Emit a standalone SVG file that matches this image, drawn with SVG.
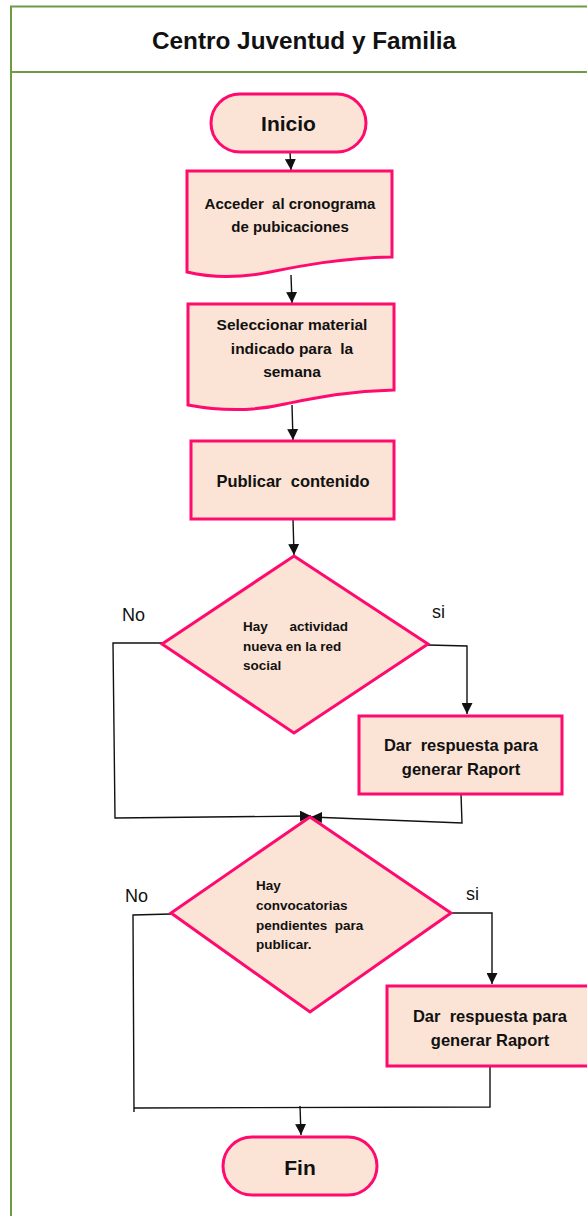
<svg xmlns="http://www.w3.org/2000/svg" width="587" height="1216" viewBox="0 0 587 1216">
<style>
.shape{fill:#FBE4D5;stroke:#FF0A6E;stroke-width:3}
.t{font-family:"Liberation Sans",Arial,sans-serif;font-weight:bold;fill:#111;text-anchor:middle}
.tl{font-family:"Liberation Sans",Arial,sans-serif;font-weight:bold;fill:#111;font-size:13.5px}
.lab{font-family:"Liberation Sans",Arial,sans-serif;fill:#111;font-size:18px}
.c{fill:none;stroke:#111;stroke-width:1.4}
</style>
<defs>
<marker id="ah" markerUnits="userSpaceOnUse" markerWidth="11" markerHeight="11" refX="10" refY="5" orient="auto" viewBox="0 0 10 10">
<path d="M0,0 L10,5 L0,10 Z" fill="#111"/>
</marker>
</defs>
<rect width="587" height="1216" fill="#fff"/>
<g id="frame">
<rect x="11" y="6.5" width="620" height="1240" fill="none" stroke="#6E9C45" stroke-width="2"/>
<line x1="11" y1="72" x2="600" y2="72" stroke="#6E9C45" stroke-width="2"/>
<text class="t" x="304" y="49" font-size="24" textLength="304" lengthAdjust="spacingAndGlyphs">Centro Juventud y Familia</text>
</g>
<g id="connectors">
<path class="c" d="M290,152 L291,170" marker-end="url(#ah)"/>
<path class="c" d="M291,275 L292,303" marker-end="url(#ah)"/>
<path class="c" d="M292,405 L293,440" marker-end="url(#ah)"/>
<path class="c" d="M293,519 L294,555" marker-end="url(#ah)"/>
<path class="c" d="M162,643 L113,643 L115,818 L311,816" marker-end="url(#ah)"/>
<path class="c" d="M428,645 L467,646 L467,714" marker-end="url(#ah)"/>
<path class="c" d="M461,794 L462,823 L311,817" marker-end="url(#ah)"/>
<path class="c" d="M171,914 L133,915 L134,1112"/>
<path class="c" d="M134,1108 L490,1107 L490,1066"/>
<path class="c" d="M451,913 L492,913 L492,984" marker-end="url(#ah)"/>
<path class="c" d="M300,1106 L301,1135" marker-end="url(#ah)"/>
</g>
<g id="inicio">
<rect class="shape" x="211" y="94" width="155" height="58" rx="29"/>
<text class="t" x="288.5" y="131" font-size="21">Inicio</text>
</g>
<g id="acceder">
<path class="shape" d="M187,171 H392 V257 C340,258 300,266 270,272 C240,278 212,278 187,272 Z"/>
<text class="t" x="290" y="209" font-size="15" xml:space="preserve">Acceder  al cronograma</text>
<text class="t" x="290" y="232" font-size="15">de pubicaciones</text>
</g>
<g id="seleccionar">
<path class="shape" d="M188,304 H394 V390 C345,391 310,399 285,404 C255,411 220,411 188,405 Z"/>
<text class="t" x="292" y="330" font-size="15.5">Seleccionar material</text>
<text class="t" x="292" y="354" font-size="15.5" xml:space="preserve">indicado para  la</text>
<text class="t" x="292" y="377" font-size="15.5">semana</text>
</g>
<g id="publicar">
<rect class="shape" x="191" y="441" width="203" height="78"/>
<text class="t" x="293" y="487" font-size="16.5" xml:space="preserve">Publicar  contenido</text>
</g>
<g id="decision1">
<polygon class="shape" points="294,556 428,644 294,733 162,644"/>
<text class="tl" x="243" y="631">Hay</text>
<text class="tl" x="348" y="631" text-anchor="end">actividad</text>
<text class="tl" x="243" y="651">nueva en la red</text>
<text class="tl" x="243" y="670">social</text>
</g>
<g id="respuesta1">
<rect class="shape" x="359" y="716" width="203" height="78"/>
<text class="t" x="461" y="751" font-size="16.5" xml:space="preserve">Dar  respuesta para</text>
<text class="t" x="461" y="775" font-size="16.5">generar Raport</text>
</g>
<g id="decision2">
<polygon class="shape" points="310,817 451,913 310,1012 171,913"/>
<text class="tl" x="256" y="890">Hay</text>
<text class="tl" x="256" y="910">convocatorias</text>
<text class="tl" x="256" y="930" xml:space="preserve">pendientes  para</text>
<text class="tl" x="256" y="949">publicar.</text>
</g>
<g id="respuesta2">
<rect class="shape" x="387" y="986" width="206" height="80"/>
<text class="t" x="490" y="1022" font-size="16.5" xml:space="preserve">Dar  respuesta para</text>
<text class="t" x="490" y="1046" font-size="16.5">generar Raport</text>
</g>
<g id="fin">
<rect class="shape" x="223" y="1137" width="154" height="58" rx="29"/>
<text class="t" x="300" y="1175" font-size="21">Fin</text>
</g>
<g id="labels">
<text class="lab" x="122" y="621">No</text>
<text class="lab" x="432" y="618">si</text>
<text class="lab" x="125" y="902">No</text>
<text class="lab" x="466" y="900">si</text>
</g>
</svg>
